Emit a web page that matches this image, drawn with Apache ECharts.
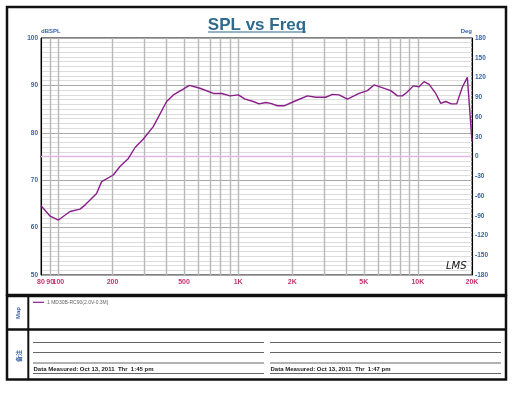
<!DOCTYPE html>
<html>
<head>
<meta charset="utf-8">
<script src="https://cdn.jsdelivr.net/npm/echarts@6/dist/echarts.min.js"></script>
<style>
html,body{margin:0;padding:0;background:#fff;}
#c{width:514px;height:396px;}
</style>
</head>
<body>
<div id="c"></div>
<script>
// Frequency (Hz) and SPL (dB)
var freqs = [80, 90, 100, 116, 132, 141, 163, 174, 202, 220, 245, 267, 297, 337, 400, 436, 495, 535, 613, 728, 810, 901, 1003, 1092, 1215, 1307, 1424, 1518, 1652, 1800, 2046, 2428, 2704, 3071, 3344, 3641, 4053, 4707, 5237, 5705, 7066, 7689, 8200, 8670, 9440, 10160, 10820, 11540, 12570, 13400, 14290, 15350, 16440, 17660, 18840, 20000];
var spl = [64.6, 62.4, 61.6, 63.4, 63.9, 64.8, 67.2, 69.7, 71.1, 72.9, 74.6, 76.9, 78.7, 81.3, 86.6, 88.0, 89.2, 90.0, 89.4, 88.3, 88.3, 87.8, 88.0, 87.1, 86.6, 86.1, 86.4, 86.2, 85.7, 85.7, 86.6, 87.8, 87.5, 87.5, 88.1, 88.0, 87.1, 88.3, 88.9, 90.1, 88.9, 87.8, 87.8, 88.5, 89.9, 89.7, 90.8, 90.2, 88.3, 86.2, 86.6, 86.1, 86.1, 89.6, 91.7, 78.2];
var xGridValues = [80, 90, 100, 200, 300, 400, 500, 600, 700, 800, 900, 1000, 2000, 3000, 4000, 5000, 6000, 7000, 8000, 9000, 10000, 20000];
var xLabelValues = [80, 90, 100, 200, 500, 1000, 2000, 5000, 10000, 20000];
var leftTicks = [50, 60, 70, 80, 90, 100];
var rightTicks = [-180, -150, -120, -90, -60, -30, 0, 30, 60, 90, 120, 150, 180];
var seriesName = '1 MD30B-RC90(2.0V-0.3M)';
var dateLeft = 'Data Measured: Oct 13, 2011  Thr  1:45 pm';
var dateRight = 'Data Measured: Oct 13, 2011  Thr  1:47 pm';

var pairs = freqs.map(function (f, i) { return [f, spl[i]]; });

var chart = echarts.init(document.getElementById('c'), null, {renderer: 'canvas'});
var blue = '#3b64a8';
var font = 'Liberation Sans';

chart.setOption({
  animation: false,
  backgroundColor: '#fff',
  title: {
    text: 'SPL vs Freq',
    left: 'center',
    top: 12,
    textStyle: {fontFamily: font, fontSize: 17, fontWeight: 'bold', color: '#2f6a8c'}
  },
  grid: {left: 41, top: 38, right: 42, bottom: 121, show: true, borderColor: '#000', borderWidth: 1, backgroundColor: 'transparent'},
  xAxis: {
    type: 'log', logBase: 10, min: 80, max: 20000,
    axisLine: {show: true, lineStyle: {color: '#000', width: 1}},
    axisTick: {show: false, customValues: xGridValues},
    splitLine: {show: true, lineStyle: {color: '#b8b8b8', width: 1.4}},
    axisLabel: {
      customValues: xLabelValues,
      color: '#c4336e', fontSize: 7, fontWeight: 'bold', fontFamily: font, margin: 4,
      formatter: function (v) { return v >= 1000 ? (Math.round(v / 1000) + 'K') : String(Math.round(v)); }
    }
  },
  yAxis: [{
    type: 'value', min: 50, max: 100, interval: 10, position: 'left',
    name: 'dBSPL', nameGap: 3, nameLocation: 'end',
    nameTextStyle: {color: blue, fontSize: 6, fontWeight: 'bold', fontFamily: font, align: 'left', padding: [0, 0, 0, 0]},
    axisLine: {show: true, lineStyle: {color: '#000'}},
    axisTick: {show: false},
    axisLabel: {color: blue, fontSize: 6.5, fontWeight: 'bold', fontFamily: font, margin: 3},
    splitLine: {show: true, lineStyle: {color: '#a8a8a8', width: 1.2}},
    minorTick: {show: false, splitNumber: 10},
    minorSplitLine: {show: true, lineStyle: {color: '#dcdcdc', width: 1}}
  }, {
    type: 'value', min: -180, max: 180, interval: 30, position: 'right',
    name: 'Deg', nameGap: 3, nameLocation: 'end',
    nameTextStyle: {color: blue, fontSize: 6, fontWeight: 'bold', fontFamily: font, align: 'right'},
    axisLine: {show: true, lineStyle: {color: '#000'}},
    axisTick: {show: false},
    axisLabel: {color: blue, fontSize: 6.5, fontWeight: 'bold', fontFamily: font, margin: 3},
    splitLine: {show: false}
  }],
  series: [{
    name: seriesName,
    type: 'line',
    data: pairs,
    yAxisIndex: 0,
    symbol: 'none',
    smooth: false,
    lineStyle: {color: '#8a1d8a', width: 1.4},
    itemStyle: {color: '#8a1d8a'},
    markLine: {
      silent: true, symbol: 'none', label: {show: false},
      lineStyle: {color: '#e4b6e4', type: 'solid', width: 1.3},
      data: [{yAxis: 75}]
    },
    z: 5
  }],
  graphic: [
    {type: 'rect', shape: {x: 7, y: 7, width: 499, height: 288}, style: {fill: 'none', stroke: '#111', lineWidth: 2.5}, silent: true, z: 100},
    {type: 'rect', shape: {x: 7, y: 296, width: 499, height: 83.5}, style: {fill: 'none', stroke: '#111', lineWidth: 2.5}, silent: true, z: 100},
    {type: 'line', shape: {x1: 7, y1: 329.5, x2: 506, y2: 329.5}, style: {stroke: '#111', lineWidth: 2.5}, silent: true, z: 100},
    {type: 'line', shape: {x1: 28.3, y1: 296, x2: 28.3, y2: 379.5}, style: {stroke: '#111', lineWidth: 2}, silent: true, z: 100},
    {type: 'line', shape: {x1: 208, y1: 32, x2: 306, y2: 32}, style: {stroke: '#2f6a8c', lineWidth: 1.2}, silent: true, z: 100},
    {type: 'text', x: 18.3, y: 313, rotation: Math.PI / 2, style: {text: 'Map', fill: blue, font: 'bold 6px "Liberation Sans"', align: 'center', verticalAlign: 'middle'}, silent: true, z: 100},
    {type: 'text', x: 18.3, y: 356, rotation: Math.PI / 2, style: {text: '备注', fill: blue, font: 'bold 6px "Noto Sans CJK SC"', align: 'center', verticalAlign: 'middle'}, silent: true, z: 100},
    {type: 'line', shape: {x1: 33, y1: 302.3, x2: 44, y2: 302.3}, style: {stroke: '#8a1d8a', lineWidth: 1.2}, silent: true, z: 100},
    {type: 'text', x: 47, y: 302.5, style: {text: seriesName, fill: '#666', font: '5px "Liberation Sans"', verticalAlign: 'middle'}, silent: true, z: 100},
    {type: 'line', shape: {x1: 33, y1: 342.5, x2: 264, y2: 342.5}, style: {stroke: '#666', lineWidth: 1}, silent: true, z: 100},
    {type: 'line', shape: {x1: 33, y1: 352.5, x2: 264, y2: 352.5}, style: {stroke: '#666', lineWidth: 1}, silent: true, z: 100},
    {type: 'line', shape: {x1: 33, y1: 363, x2: 264, y2: 363}, style: {stroke: '#666', lineWidth: 1}, silent: true, z: 100},
    {type: 'line', shape: {x1: 33, y1: 373.5, x2: 264, y2: 373.5}, style: {stroke: '#666', lineWidth: 1}, silent: true, z: 100},
    {type: 'line', shape: {x1: 270, y1: 342.5, x2: 501, y2: 342.5}, style: {stroke: '#666', lineWidth: 1}, silent: true, z: 100},
    {type: 'line', shape: {x1: 270, y1: 352.5, x2: 501, y2: 352.5}, style: {stroke: '#666', lineWidth: 1}, silent: true, z: 100},
    {type: 'line', shape: {x1: 270, y1: 363, x2: 501, y2: 363}, style: {stroke: '#666', lineWidth: 1}, silent: true, z: 100},
    {type: 'line', shape: {x1: 270, y1: 373.5, x2: 501, y2: 373.5}, style: {stroke: '#666', lineWidth: 1}, silent: true, z: 100},
    {type: 'text', x: 33.5, y: 372, style: {text: dateLeft, fill: '#222', font: 'bold 6px "Liberation Sans"', verticalAlign: 'bottom'}, silent: true, z: 100},
    {type: 'text', x: 270.5, y: 372, style: {text: dateRight, fill: '#222', font: 'bold 6px "Liberation Sans"', verticalAlign: 'bottom'}, silent: true, z: 100},
    {type: 'text', x: 446, y: 266, style: {text: 'LMS', fill: '#111', font: 'italic 10px "DejaVu Sans"', verticalAlign: 'middle'}, silent: true, z: 100}
  ]
});
</script>
</body>
</html>
